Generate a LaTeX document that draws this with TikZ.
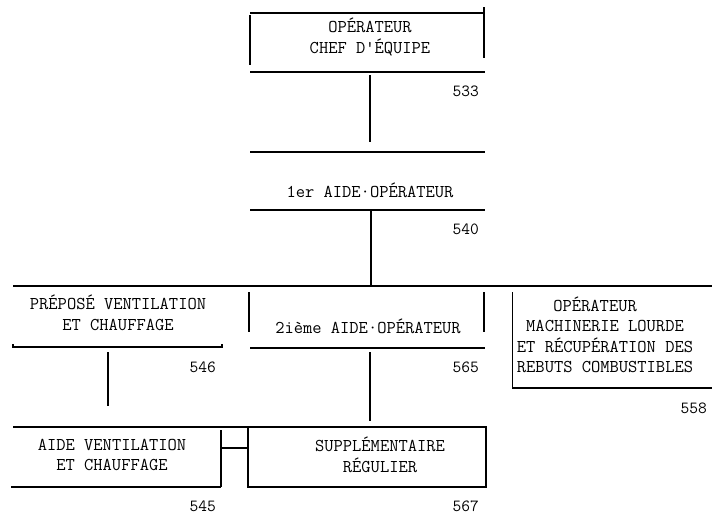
\documentclass[tikz,border=0pt]{standalone}
\usepackage{fontspec}
\tikzset{
  lbl/.style={font=\ttfamily\fontsize{18}{20.5}\selectfont, align=center, inner sep=0pt},
  num/.style={font=\ttfamily\fontsize{17}{18}\selectfont, inner sep=0pt, anchor=east},
  edge/.style={line width=1.2pt, line cap=butt},
  thick edge/.style={line width=1.8pt},
  conn/.style={line width=1.2pt},
}
\begin{document}
\begin{tikzpicture}[x=1pt,y=-1pt]
\useasboundingbox[fill=white] (0,0) rectangle (712,522);

% ---- texts ----
\node[lbl] (chef) at (370,37) {OPÉRATEUR\\CHEF D'ÉQUIPE};
\node[num] (n533) at (479,91) {533};
\node[lbl] (aide1) at (370,190) {1er AIDE·OPÉRATEUR};
\node[num] (n540) at (479,229) {540};
\node[lbl] (prepose) at (118,313) {PRÉPOSÉ VENTILATION\\ET CHAUFFAGE};
\node[num] (n546) at (216,367) {546};
\node[lbl] (aide2) at (368,326) {2ième AIDE·OPÉRATEUR};
\node[num] (n565) at (479,367) {565};
\node[lbl] (machin) at (605,335) {\hspace*{-1.1em}OPÉRATEUR\\MACHINERIE LOURDE\\ET RÉCUPÉRATION DES\\REBUTS COMBUSTIBLES};
\node[num] (n558) at (707,408) {558};
\node[lbl] (aidevent) at (112,455) {AIDE VENTILATION\\ET CHAUFFAGE};
\node[num] (n545) at (216,506) {545};
\node[lbl] (suppl) at (380,455) {SUPPLÉMENTAIRE\\RÉGULIER};
\node[num] (n567) at (479,506) {567};

% ---- box edges ----
% top box
\draw[edge] (250,13) -- (485,13);
\draw[thick edge] (250,15) -- (250,65);
\draw[thick edge] (484,7) -- (484,58);
\draw[edge] (250,72) -- (485,72);
% 1er aide
\draw[edge] (250,152) -- (485,152);
\draw[edge] (250,210) -- (485,210);
% main bar
\draw[edge] (13,286) -- (712,286);
% prepose bottom
\draw[edge] (13,347) -- (222,347);
\draw[edge] (13,344) -- (13,348);
\draw[edge] (222,344) -- (222,348);
% 2ieme box
\draw[thick edge] (249,292) -- (249,332);
\draw[thick edge] (484,292) -- (484,332);
\draw[edge] (250,348) -- (485,348);
% machinerie box
\draw[line width=0.8pt] (512,292) -- (512,389);
\draw[edge] (512,388) -- (712,388);
% aide ventilation box
\draw[edge] (13,427) -- (250,427);
\draw[edge] (11,487) -- (221,487);
\draw[edge] (221,430) -- (221,487);
% supplementaire box
\draw[edge] (248,427) -- (486,427) -- (486,487) -- (248,487) -- cycle;

% ---- connectors ----
\coordinate (c1a) at (370,75);  \coordinate (c1b) at (370,142);
\coordinate (c2a) at (371,210); \coordinate (c2b) at (371,286);
\coordinate (c3a) at (108,352); \coordinate (c3b) at (108,406);
\coordinate (c4a) at (370,352); \coordinate (c4b) at (370,421);
\coordinate (c5a) at (221,448); \coordinate (c5b) at (248,448);
\draw[conn] (c1a) -- (c1b);
\draw[conn] (c2a) -- (c2b);
\draw[thick edge] (c3a) -- (c3b);
\draw[conn] (c4a) -- (c4b);
\draw[conn] (c5a) -- (c5b);
\end{tikzpicture}
\end{document}
